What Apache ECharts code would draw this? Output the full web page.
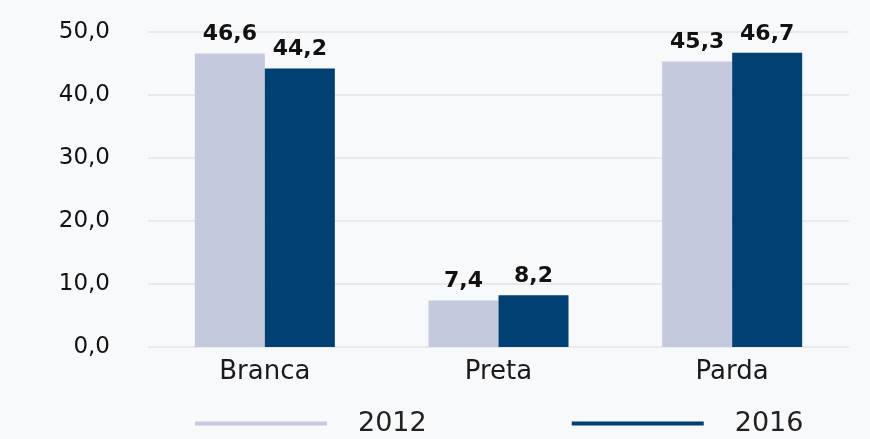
<!DOCTYPE html>
<html>
<head>
<meta charset="utf-8">
<script src="https://cdn.jsdelivr.net/npm/echarts@6/dist/echarts.min.js"></script>
<style>
  html, body { margin: 0; padding: 0; background: #f8f9fb; }
  #chart { width: 870px; height: 439px; }
</style>
</head>
<body>
<div id="chart"></div>
<script>
// dados
const categories = ['Branca', 'Preta', 'Parda'];
const years = ['2012', '2016'];
const values2012 = [46.6, 7.4, 45.3];
const values2016 = [44.2, 8.2, 46.7];
const yTicks = [0, 10, 20, 30, 40, 50];

const colors = ['#c4c9de', '#003f72'];
const fmt = v => v.toFixed(1).replace('.', ',');

const chart = echarts.init(document.getElementById('chart'));

const makeSeries = (name, data, color) => ({
  name: name,
  type: 'bar',
  data: data,
  barWidth: 70,
  barGap: '0%',
  itemStyle: { color: color },
  label: {
    show: true,
    position: 'top',
    distance: 8,
    formatter: p => fmt(p.value),
    fontFamily: 'DejaVu Sans',
    fontWeight: 'bold',
    fontSize: 22,
    color: '#111'
  }
});

chart.setOption({
  backgroundColor: '#f8f9fb',
  animation: false,
  grid: { left: 148, right: 21, top: 32, bottom: 92 },
  legend: {
    data: years.map(y => ({ name: y, icon: 'rect' })),
    left: 190,
    top: 405,
    itemWidth: 132,
    itemHeight: 4,
    itemGap: 145,
    textStyle: {
      fontFamily: 'DejaVu Sans',
      fontSize: 27,
      color: '#222',
      padding: [0, 0, 0, 26]
    }
  },
  xAxis: {
    type: 'category',
    data: categories,
    axisLine: { show: false },
    axisTick: { show: false },
    axisLabel: {
      margin: 12,
      fontFamily: 'DejaVu Sans',
      fontSize: 26,
      color: '#1a1a1a'
    }
  },
  yAxis: {
    type: 'value',
    min: yTicks[0],
    max: yTicks[yTicks.length - 1],
    interval: 10,
    axisLabel: {
      margin: 38,
      formatter: v => fmt(v),
      fontFamily: 'DejaVu Sans',
      fontSize: 23,
      color: '#111'
    },
    splitLine: { lineStyle: { color: '#e2e3e6', width: 1.5 } }
  },
  series: [
    makeSeries(years[0], values2012, colors[0]),
    makeSeries(years[1], values2016, colors[1])
  ]
});
</script>
</body>
</html>
